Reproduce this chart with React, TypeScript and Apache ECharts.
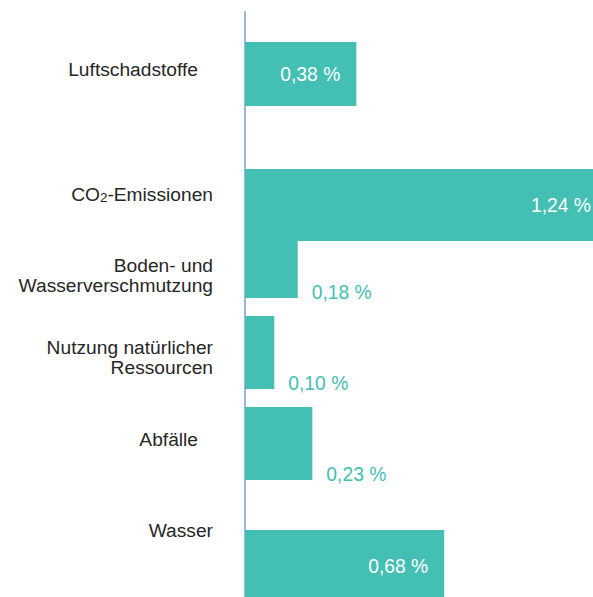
import React, { useEffect, useRef } from "react";
import * as echarts from "echarts";

// Data
const categories = [
  "Luftschadstoffe",
  "CO{sub|2}-Emissionen",
  "Boden- und\nWasserverschmutzung",
  "Nutzung natürlicher\nRessourcen",
  "Abfälle",
  "Wasser",
];
const values = [0.38, 1.24, 0.18, 0.1, 0.23, 0.68];

// Layout (vertical band positions in y-axis units, px from grid top)
const barTop = [30, 157, 229, 304, 395, 518];
const barBottom = [94, 229, 286, 377, 468, 590];
const labelY = [57, 182, 263, 345, 427, 518];
const labelInset = [15, 0, 0, 0, 15, 0];

const TEAL = "#43bfb3";
const TEXT = "#262626";
const FONT = "'Liberation Sans', Arial, sans-serif";

const fmt = (v: number) => v.toFixed(2).replace(".", ",") + " %";

export default function App() {
  const ref = useRef<HTMLDivElement>(null);
  useEffect(() => {
    if (!ref.current) return;
    const chart = echarts.init(ref.current, null, { renderer: "svg" });
    chart.setOption({
      animation: false,
      backgroundColor: "#ffffff",
      grid: { left: 245, right: 0, top: 12, bottom: 0 },
      xAxis: { type: "value", min: 0, max: 1.188, show: false },
      yAxis: {
        type: "value",
        min: 0,
        max: 585,
        inverse: true,
        offset: 1.5,
        axisLine: { show: true, lineStyle: { color: "#9ab9d8", width: 2 } },
        axisTick: { show: false },
        axisLabel: { show: false },
        splitLine: { show: false },
      },
      series: [
        {
          type: "custom",
          data: values.map((v, i) => [v, i]),
          renderItem: (params: any, api: any) => {
            const v = api.value(0);
            const i = api.value(1);
            const cs = params.coordSys;
            const right = cs.x + cs.width;
            const bottom = cs.y + cs.height;
            const p0 = api.coord([0, barTop[i]]);
            const p1 = api.coord([v, barBottom[i]]);
            const x0 = p0[0];
            const y0 = p0[1];
            const x1 = Math.min(p1[0], right);
            const y1 = Math.min(p1[1], bottom);
            const inside = p1[0] - p0[0] > 90;
            const ly = api.coord([0, labelY[i]])[1];
            return {
              type: "group",
              children: [
                {
                  type: "rect",
                  shape: { x: x0, y: y0, width: x1 - x0, height: y1 - y0 },
                  style: { fill: TEAL },
                },
                {
                  type: "text",
                  style: inside
                    ? {
                        text: fmt(v),
                        x: Math.min(p1[0] - 16, right - 2),
                        y: (y0 + p1[1]) / 2,
                        align: "right",
                        verticalAlign: "middle",
                        fill: "#ffffff",
                        fontSize: 19.3,
                        fontFamily: FONT,
                      }
                    : {
                        text: fmt(v),
                        x: p1[0] + 14,
                        y: p1[1] - 6,
                        align: "left",
                        verticalAlign: "middle",
                        fill: TEAL,
                        fontSize: 19.3,
                        fontFamily: FONT,
                      },
                },
                {
                  type: "text",
                  style: {
                    text: categories[i],
                    x: cs.x - 32 - labelInset[i],
                    y: ly,
                    align: "right",
                    verticalAlign: "middle",
                    fill: TEXT,
                    fontSize: 19.2,
                    lineHeight: 20,
                    fontFamily: FONT,
                    rich: {
                      sub: {
                        fontSize: 13.5,
                        fill: TEXT,
                        fontFamily: FONT,
                        padding: [7, 0, 0, 0],
                      },
                    },
                  },
                },
              ],
            };
          },
        },
      ],
    });
    return () => chart.dispose();
  }, []);
  return (
    <div
      ref={ref}
      style={{ position: "fixed", left: 0, top: 0, width: 593, height: 597 }}
    />
  );
}
